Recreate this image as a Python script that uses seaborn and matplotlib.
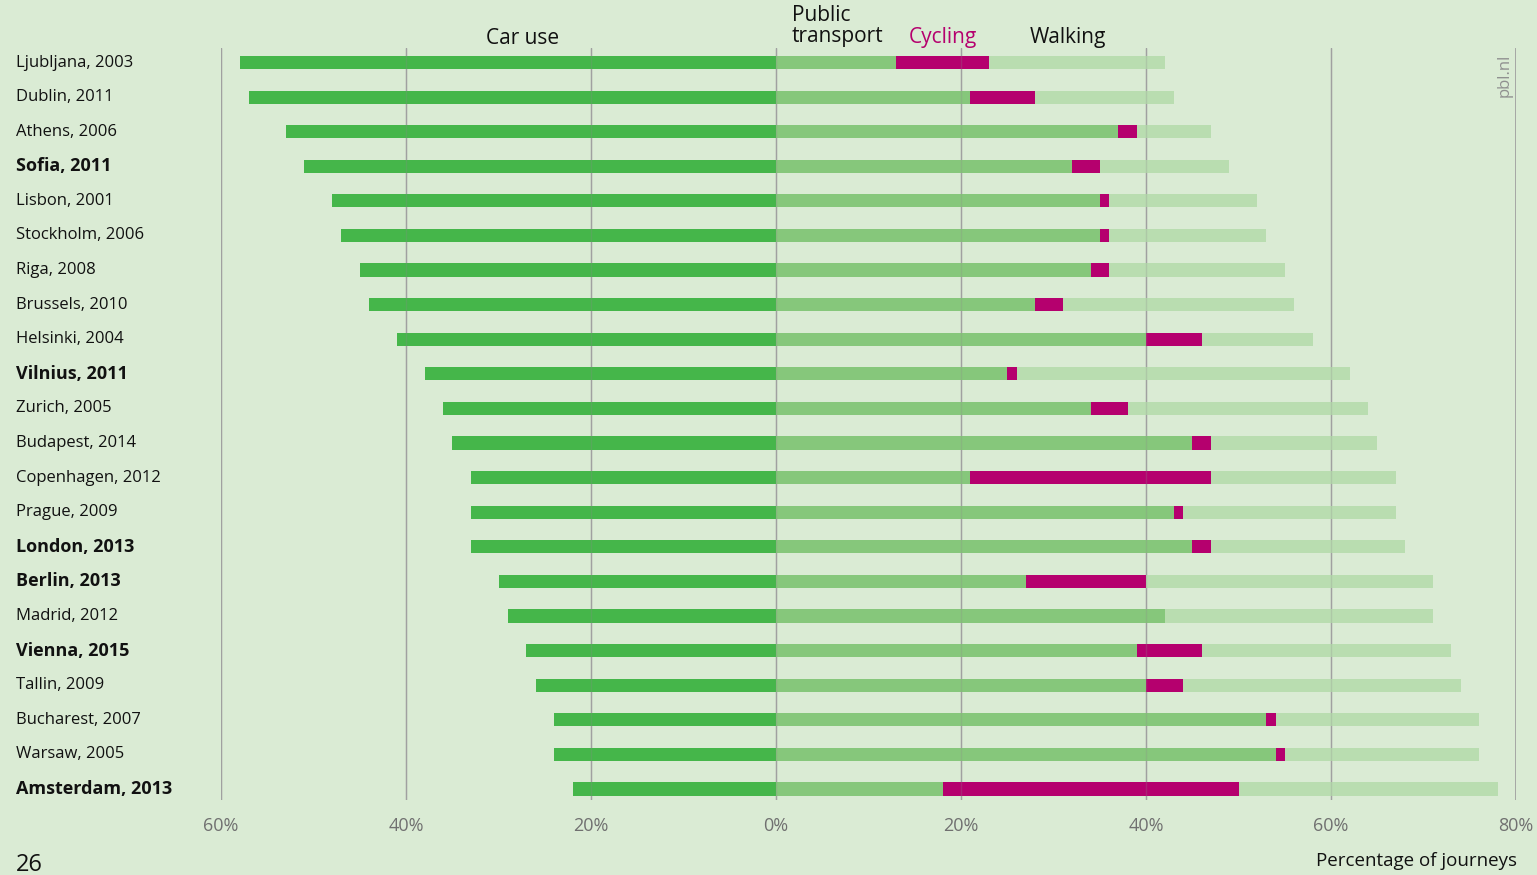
import numpy as np
import pandas as pd
import matplotlib
matplotlib.use("Agg")
import matplotlib.pyplot as plt
import matplotlib.transforms as mtransforms
import seaborn as sns

# ---------------- DATA ----------------
cities = ["Ljubljana, 2003", "Dublin, 2011", "Athens, 2006", "Sofia, 2011",
          "Lisbon, 2001", "Stockholm, 2006", "Riga, 2008", "Brussels, 2010",
          "Helsinki, 2004", "Vilnius, 2011", "Zurich, 2005", "Budapest, 2014",
          "Copenhagen, 2012", "Prague, 2009", "London, 2013", "Berlin, 2013",
          "Madrid, 2012", "Vienna, 2015", "Tallin, 2009", "Bucharest, 2007",
          "Warsaw, 2005", "Amsterdam, 2013"]
bold_cities = ["Sofia, 2011", "Vilnius, 2011", "London, 2013", "Berlin, 2013",
               "Vienna, 2015", "Amsterdam, 2013"]
car_use = [58, 57, 53, 51, 48, 47, 45, 44, 41, 38, 36, 35, 33, 33, 33, 30, 29, 27, 26, 24, 24, 22]
public_transport = [13, 21, 37, 32, 35, 35, 34, 28, 40, 25, 34, 45, 21, 43, 45, 27, 42, 39, 40, 53, 54, 18]
cycling = [10, 7, 2, 3, 1, 1, 2, 3, 6, 1, 4, 2, 26, 1, 2, 13, 0, 7, 4, 1, 1, 32]
walking = [19, 15, 8, 14, 16, 17, 19, 25, 12, 36, 26, 18, 20, 23, 21, 31, 29, 27, 30, 22, 21, 28]
x_ticks = [-60, -40, -20, 0, 20, 40, 60, 80]

BG = "#daebd4"
C_CAR = "#45b64a"
C_PT = "#86c77b"
C_CYC = "#b5006e"
C_WALK = "#b9ddb0"

df = pd.DataFrame({"city": cities, "car": car_use, "pt": public_transport,
                   "cyc": cycling, "walk": walking})
df["car_neg"] = -df["car"]
df["pt_cyc"] = df["pt"] + df["cyc"]
df["total"] = df["pt_cyc"] + df["walk"]

sns.set_style("white")
plt.rcParams["font.family"] = ["Open Sans", "DejaVu Sans"]

fig = plt.figure(figsize=(15.37, 8.75), dpi=100, facecolor=BG)
ax = fig.add_axes([221 / 1537, 1 - 800 / 875, (1516 - 221) / 1537, (800 - 48) / 875])
ax.set_facecolor(BG)

bw = 0.38
# layered bars: walking total, then PT+cycling, then PT
sns.barplot(data=df, y="city", x="total", color=C_WALK, width=bw, saturation=1, ax=ax, orient="h")
sns.barplot(data=df, y="city", x="pt_cyc", color=C_CYC, width=bw, saturation=1, ax=ax, orient="h")
sns.barplot(data=df, y="city", x="pt", color=C_PT, width=bw, saturation=1, ax=ax, orient="h")
sns.barplot(data=df, y="city", x="car_neg", color=C_CAR, width=bw, saturation=1, ax=ax, orient="h")
for p in ax.patches:
    p.set_linewidth(0)
    p.set_zorder(2)

ax.set_xlim(-60, 80)
ax.set_ylim(21.32, -0.42)
ax.set_xticks(x_ticks)
ax.set_xticklabels([f"{abs(v)}%" for v in x_ticks], color="#707070", fontsize=13)
ax.tick_params(axis="x", length=0, pad=12)
ax.set_yticks([])
ax.set_xlabel("")
ax.set_ylabel("")
for s in ax.spines.values():
    s.set_visible(False)

# gridlines: solid behind, faint trace over bars
for v in x_ticks[:-1]:
    ax.axvline(v, color="#a8a8a8", lw=1, zorder=1)
    ax.axvline(v, color="#8a8a8a", lw=1, alpha=0.25, zorder=5)
ax.axvline(80, color="#a0a0a0", lw=2, zorder=5)

# city labels
trans = mtransforms.blended_transform_factory(fig.transFigure, ax.transData)
for i, c in enumerate(cities):
    if c in bold_cities:
        ax.text(16 / 1537, i, c, transform=trans, ha="left", va="center",
                fontsize=13, fontweight="bold", color="#111111")
    else:
        ax.text(16 / 1537, i, c, transform=trans, ha="left", va="center",
                fontsize=12, color="#111111")

# headers
fig.text(523 / 1537, 1 - 38 / 875, "Car use", ha="center", va="center", fontsize=15, color="#111111")
fig.text(792 / 1537, 1 - 26 / 875, "Public\ntransport", ha="left", va="center", fontsize=15,
         color="#111111", linespacing=1.0)
fig.text(909 / 1537, 1 - 38 / 875, "Cycling", ha="left", va="center", fontsize=15, color=C_CYC)
fig.text(1030 / 1537, 1 - 38 / 875, "Walking", ha="left", va="center", fontsize=15, color="#111111")

fig.text(1505 / 1537, 1 - 75 / 875, "pbl.nl", rotation=90, ha="center", va="center",
         fontsize=12, color="#909090")
fig.text(1517 / 1537, 1 - 861 / 875, "Percentage of journeys", ha="right", va="center",
         fontsize=13.5, color="#111111")
fig.text(16 / 1537, 1 - 865 / 875, "26", ha="left", va="center", fontsize=17, color="#111111")

fig.savefig("out.png", dpi=100, facecolor=BG)
